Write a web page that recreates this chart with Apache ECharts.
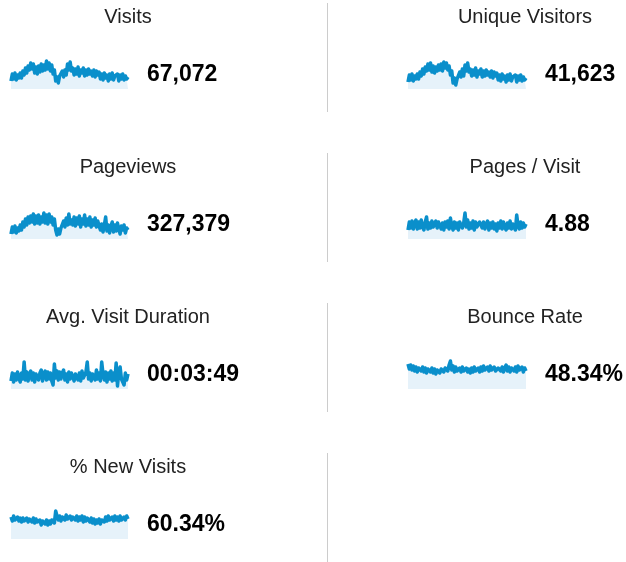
<!DOCTYPE html>
<html>
<head>
<meta charset="utf-8">
<script src="https://cdn.jsdelivr.net/npm/echarts@6/dist/echarts.min.js"></script>
<style>
html,body{margin:0;padding:0;background:#fff;}
#c{width:626px;height:562px;}
</style>
</head>
<body>
<div id="c"></div>
<script>
// Metric names and headline values
const metricTitles = ['Visits', 'Unique Visitors', 'Pageviews', 'Pages / Visit', 'Avg. Visit Duration', 'Bounce Rate', '% New Visits'];
const metricValues = ['67,072', '41,623', '327,379', '4.88', '00:03:49', '48.34%', '60.34%'];

// Sparkline series (relative heights, 0..34 scale)
const visitsSpark = [8,15,10,16,9,14,11,16, 11,18,14,21,16,23, 19,26,20,25, 16,22,15,23,17,
  25,18,24,19,28,20,26,18,24, 15,19, 8,12,6,13, 11,18,12,19,14, 25,19,27,18,
  21,14,20,15,22,13,19,16,21,13,19,14,20,15,18,13,19,12,18,14,17,
  10,15,9,16,11,14,8,15,10,16,9,13,11,15,8,14,10,15,9,13,10,12];
const uniqueSpark = [7,14,9,15,8,13,10,15, 10,17,13,20,15,22, 18,25,19,26, 17,23,16,22,18,
  24,19,25,18,27,21,26,19,23, 14,18, 6,11,4,10, 10,17,12,20,13, 24,18,26,17,
  20,13,19,14,21,12,18,15,20,12,18,13,19,14,17,12,18,11,17,13,16,
  9,14,8,15,10,13,7,14,9,15,8,12,10,14,7,13,9,14,8,12,9,11];
const pageviewsSpark = [5,12,7,13,6,11,8,14, 9,17,12,20,14,22,16,23,17,25,
  15,23,16,24,15,22,17,26,16,24,15,25,17,22,14,20, 9,4,10,5,11,
  10,18,12,21,14,25,15,19,
  14,22,13,21,15,23,12,20,15,24,13,20,14,22,12,19,14,21,12,18,13,
  9,15,7,14,22,8,14,6,13,17,7,14,8,16,10,5,13,9,14,6,11,9];
const pagesPerVisitSpark = [9,17,11,18,10,16,19,10,17,11, 19,12,9,17,22,10,16,11,18,12,
  10,18,11,17,19,10,16,9,17,12, 18,10,21,13,9,17,11,16,9,17,
  18,11,16,26,12,19,10,16,11,18, 9,17,12,10,17,19,11,17,10,15,
  18,9,16,11,17,10,15,8,16,11, 18,10,17,12,9,16,11,18,10,15,
  17,9,24,13,10,17,11,16,12,15];
const durationSpark = [8,16,7,15,9,17,11,7,16,10, 27,9,17,8,15,18,9,16,7,15,
  17,9,16,19,8,15,18,9,17,10, 16,8,4,25,11,18,9,17,10,16,
  19,9,15,7,17,10,16,18,8,15, 17,9,16,8,18,11,9,17,27,10,
  16,8,15,17,9,19,10,16,8,27, 15,9,17,7,16,10,18,8,16,9,
  26,3,17,22,10,7,4,16,9,15];
const bounceSpark = [25,20,24,19,23,18,22,17,21,23, 18,22,17,21,16,20,22,17,21,16,
  20,15,19,21,16,20,22,17,21,23, 18,24,28,19,23,17,22,18,16,21,
  17,22,18,16,21,17,20,16,21,17, 22,18,16,21,17,22,18,23,19,17,
  22,18,23,19,17,22,18,16,21,23, 18,22,17,21,24,18,22,17,21,23,
  18,22,17,23,19,18,22,17,21,18];
const newVisitsSpark = [22,18,23,19,17,22,18,21,17,21, 18,16,21,17,20,22,17,21,16,20,
  17,15,19,14,18,20,15,19,14,18, 15,19,21,16,28,23,19,23,18,22,
  23,19,24,20,18,23,19,22,24,19, 23,18,22,19,23,17,22,18,21,23,
  17,21,16,20,15,19,16,20,15,19, 21,17,22,18,23,19,17,22,18,23,
  19,22,18,23,19,17,22,19,23,20];

const sparkSeries = [visitsSpark, uniqueSpark, pageviewsSpark, pagesPerVisitSpark, durationSpark, bounceSpark, newVisitsSpark];
const days = visitsSpark.map((_, i) => String(i + 1));

const chart = echarts.init(document.getElementById('c'), null, {renderer: 'canvas'});

const cols = [
  {titleX: 128, sparkLeft: 11, sparkWidth: 117, valueX: 147},
  {titleX: 525, sparkLeft: 408, sparkWidth: 118, valueX: 545}
];
const rowH = 150;

const grids = [], xAxes = [], yAxes = [], series = [], graphics = [];
sparkSeries.forEach((data, k) => {
  const col = cols[k % 2];
  const rowTop = Math.floor(k / 2) * rowH;
  grids.push({left: col.sparkLeft, top: rowTop + 55, width: col.sparkWidth, height: 34});
  xAxes.push({type: 'category', gridIndex: k, data: days, boundaryGap: false, show: false});
  yAxes.push({type: 'value', gridIndex: k, min: 0, max: 34, show: false});
  series.push({
    type: 'line', xAxisIndex: k, yAxisIndex: k, data: data,
    showSymbol: false, symbol: 'none', animation: false, sampling: null,
    lineStyle: {color: '#0A8FCB', width: 3.5, join: 'round'},
    areaStyle: {color: '#E6F2FA', opacity: 1}
  });
  graphics.push({
    type: 'text', x: col.titleX, y: rowTop + 17,
    style: {text: metricTitles[k], fill: '#222', fontSize: 20, fontFamily: 'Liberation Sans', fontWeight: 'normal', textAlign: 'center', textVerticalAlign: 'middle'}
  });
  graphics.push({
    type: 'text', x: col.valueX, y: rowTop + 75,
    style: {text: metricValues[k], fill: '#000', fontSize: 23, fontFamily: 'Liberation Sans', fontWeight: 'bold', textAlign: 'left', textVerticalAlign: 'middle'}
  });
});
for (let r = 0; r < 4; r++) {
  graphics.push({
    type: 'line', shape: {x1: 327.5, y1: r * rowH + 3, x2: 327.5, y2: Math.min(r * rowH + 112, 562)},
    style: {stroke: '#cccccc', lineWidth: 1}
  });
}

chart.setOption({
  animation: false,
  grid: grids,
  xAxis: xAxes,
  yAxis: yAxes,
  series: series,
  graphic: graphics
});
</script>
</body>
</html>
